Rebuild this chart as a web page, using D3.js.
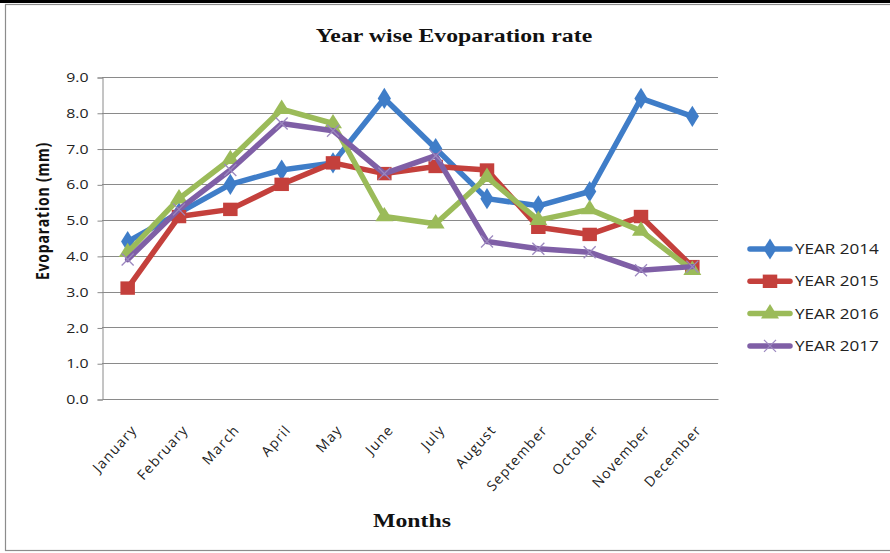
<!DOCTYPE html>
<html>
<head>
<meta charset="utf-8">
<script src="https://cdn.jsdelivr.net/npm/d3@7"></script>
<style>
  html, body { margin: 0; padding: 0; background: #fff; }
  svg { display: block; }
</style>
</head>
<body>
<svg id="chart" width="890" height="553"></svg>
<script>
// Monthly evaporation (mm) by year
const months = ["January", "February", "March", "April", "May", "June",
                "July", "August", "September", "October", "November", "December"];
const year2014 = [4.4, 5.2, 6.0, 6.4, 6.6, 8.4, 7.0, 5.6, 5.4, 5.8, 8.4, 7.9];
const year2015 = [3.1, 5.1, 5.3, 6.0, 6.6, 6.3, 6.5, 6.4, 4.8, 4.6, 5.1, 3.7];
const year2016 = [4.1, 5.6, 6.7, 8.1, 7.7, 5.1, 4.9, 6.2, 5.0, 5.3, 4.7, 3.6];
const year2017 = [3.9, 5.3, 6.4, 7.7, 7.5, 6.3, 6.8, 4.4, 4.2, 4.1, 3.6, 3.7];
const seriesNames = ["YEAR 2014", "YEAR 2015", "YEAR 2016", "YEAR 2017"];
const yTicks = [0, 1, 2, 3, 4, 5, 6, 7, 8, 9];

const series = [
  { name: seriesNames[0], values: year2014, color: "#3f7dc8", marker: "diamond" },
  { name: seriesNames[1], values: year2015, color: "#c4403c", marker: "square" },
  { name: seriesNames[2], values: year2016, color: "#9bbb59", marker: "triangle" },
  { name: seriesNames[3], values: year2017, color: "#7f5fa6", marker: "x" }
];

// text in this chart is drawn slightly wide
const SX = 1.22;

const svg = d3.select("#chart");
const plot = { left: 102, right: 718, top: 77, bottom: 399 };

// outer frame
svg.append("rect").attr("x", 0).attr("y", 0).attr("width", 890).attr("height", 3).attr("fill", "#000");
svg.append("rect").attr("x", 5.5).attr("y", 4.5).attr("width", 900).attr("height", 546)
  .attr("fill", "none").attr("stroke", "#8c8c8c").attr("stroke-width", 1.2);

const x = d3.scalePoint().domain(months).range([plot.left, plot.right]).padding(0.5);
const y = d3.scaleLinear().domain([0, 9]).range([plot.bottom, plot.top]);

// horizontal gridlines
svg.append("g").selectAll("line").data(yTicks.slice(1)).join("line")
  .attr("x1", plot.left).attr("x2", plot.right)
  .attr("y1", d => Math.round(y(d)) + 0.5).attr("y2", d => Math.round(y(d)) + 0.5)
  .attr("stroke", "#8a8a8a").attr("stroke-width", 1);

// y axis
const yAxis = svg.append("g").attr("transform", `translate(${plot.left + 0.5},0.5)`)
  .call(d3.axisLeft(y).tickValues(yTicks).tickFormat(d3.format(".1f")).tickSize(5).tickPadding(10));
yAxis.select(".domain").attr("stroke", "#8a8a8a");
yAxis.selectAll(".tick line").attr("stroke", "#8a8a8a");
yAxis.selectAll(".tick text").attr("font-family", "'Open Sans', sans-serif")
  .attr("font-size", 13).attr("fill", "#222")
  .attr("x", 0).attr("transform", `translate(-14,0) scale(${SX},1)`);

// x axis
const xAxis = svg.append("g").attr("transform", `translate(0.5,${plot.bottom + 0.5})`)
  .call(d3.axisBottom(x).tickSize(0).tickPadding(0));
xAxis.select(".domain").attr("stroke", "#8a8a8a").attr("d", `M${plot.left},0H${plot.right}`);
xAxis.selectAll(".tick text")
  .attr("font-family", "'Open Sans', sans-serif").attr("font-size", 14).attr("fill", "#222")
  .attr("letter-spacing", 1.2)
  .attr("text-anchor", "end")
  .attr("dy", null).attr("y", 0)
  .attr("transform", "translate(9,31) rotate(-48)");

// lines
const line = d3.line().x((d, i) => x(months[i])).y(d => y(d));
const markerPath = {
  diamond: d3.symbol().type(d3.symbolDiamond).size(130),
  square: d3.symbol().type(d3.symbolSquare).size(180),
  triangle: d3.symbol().type(d3.symbolTriangle).size(120)
};

function drawMarker(g, s, cx, cy) {
  if (s.marker === "x") {
    const r = 6;
    const xg = g.append("g").attr("transform", `translate(${cx},${cy})`)
      .attr("stroke", "#9c88bf").attr("stroke-width", 1.3);
    xg.append("line").attr("x1", -r).attr("y1", -r).attr("x2", r).attr("y2", r);
    xg.append("line").attr("x1", -r).attr("y1", r).attr("x2", r).attr("y2", -r);
  } else {
    g.append("path").attr("d", markerPath[s.marker]())
      .attr("transform", `translate(${cx},${cy}) scale(1.08,1)`)
      .attr("fill", s.color);
  }
}

series.forEach(s => {
  const g = svg.append("g");
  g.append("path").datum(s.values).attr("d", line)
    .attr("fill", "none").attr("stroke", s.color).attr("stroke-width", 5.5)
    .attr("stroke-linejoin", "round").attr("stroke-linecap", "round");
  s.values.forEach((v, i) => drawMarker(g, s, x(months[i]), y(v)));
});

// legend
const legend = svg.append("g");
series.forEach((s, i) => {
  const ly = 249 + i * 32.3;
  const g = legend.append("g");
  g.append("line").attr("x1", 750).attr("x2", 790).attr("y1", ly).attr("y2", ly)
    .attr("stroke", s.color).attr("stroke-width", 5.5).attr("stroke-linecap", "round");
  drawMarker(g, s, 770, ly);
  g.append("text").attr("transform", `translate(795,${ly}) scale(${SX},1)`).attr("dy", "0.35em")
    .attr("font-family", "'Open Sans', sans-serif").attr("font-size", 14).attr("fill", "#222")
    .text(s.name);
});

// titles
svg.append("text").attr("transform", `translate(454,42) scale(${SX},1)`).attr("text-anchor", "middle")
  .attr("font-family", "'Liberation Serif', serif").attr("font-weight", "bold").attr("font-size", 19.5)
  .attr("fill", "#111").text("Year wise Evoparation rate");

svg.append("text").attr("transform", `translate(412,527) scale(${SX},1)`).attr("text-anchor", "middle")
  .attr("font-family", "'Liberation Serif', serif").attr("font-weight", "bold").attr("font-size", 19.5)
  .attr("fill", "#111").text("Months");

svg.append("text").attr("transform", `translate(49,211) scale(${SX},1) rotate(-90)`).attr("text-anchor", "middle")
  .attr("font-family", "'Open Sans', sans-serif").attr("font-weight", "bold").attr("font-size", 14)
  .attr("letter-spacing", 0.8)
  .attr("fill", "#111").text("Evoparation (mm)");
</script>
</body>
</html>
